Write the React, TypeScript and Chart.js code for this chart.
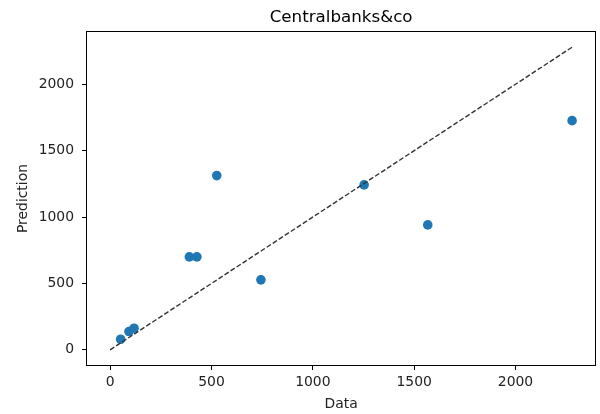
import React, { useEffect, useRef } from "react";
import { Chart, registerables } from "chart.js";

Chart.register(...registerables);

const dataX = [52, 93, 118, 391, 428, 526, 744, 1253, 1567, 2279];
const predY = [80, 138, 163, 700, 700, 1312, 527, 1242, 941, 1726];
const identityLine = [0, 2279];
const xTicks = [0, 500, 1000, 1500, 2000];
const yTicks = [0, 500, 1000, 1500, 2000];
const axisMin = -114;
const axisMax = 2393;

const FONT = "'DejaVu Sans', sans-serif";

const framePlugin = {
  id: "frame",
  afterDatasetsDraw(chart: any) {
    const { ctx, chartArea } = chart;
    ctx.save();
    ctx.strokeStyle = "#000";
    ctx.lineWidth = 1;
    const l = Math.round(chartArea.left) - 0.5;
    const t = Math.round(chartArea.top) - 0.5;
    const r = Math.round(chartArea.right) + 0.5;
    const b = Math.round(chartArea.bottom) + 0.5;
    ctx.strokeRect(l, t, r - l, b - t);
    ctx.restore();
  },
};

export default function App() {
  const ref = useRef<HTMLCanvasElement>(null);
  useEffect(() => {
    if (!ref.current) return;
    const chart = new Chart(ref.current, {
      type: "scatter",
      data: {
        datasets: [
          {
            label: "identity",
            data: identityLine.map((v) => ({ x: v, y: v })),
            showLine: true,
            borderColor: "#333",
            borderWidth: 1.4,
            borderDash: [5, 2.2],
            pointRadius: 0,
            fill: false,
          },
          {
            label: "points",
            data: dataX.map((x, i) => ({ x, y: predY[i] })),
            backgroundColor: "#1f77b4",
            borderColor: "#1f77b4",
            borderWidth: 0,
            pointRadius: 4.8,
          },
        ],
      },
      options: {
        animation: false,
        responsive: false,
        devicePixelRatio: 1,
        layout: { padding: { left: 0, right: 2, top: 0, bottom: 0 } },
        plugins: {
          legend: { display: false },
          tooltip: { enabled: false },
          title: {
            display: true,
            text: "Centralbanks&co",
            fullSize: false,
            color: "#000",
            font: { family: FONT, size: 16.7, weight: "normal" },
            padding: { top: 8, bottom: 4 },
          },
        },
        scales: {
          x: {
            type: "linear",
            min: axisMin,
            max: axisMax,
            afterBuildTicks: (s: any) => {
              s.ticks = xTicks.map((v) => ({ value: v }));
            },
            afterFit: (s: any) => {
              s.height = 49;
            },
            border: { display: false },
            grid: { drawOnChartArea: false, drawTicks: true, tickLength: 5, color: "#000" },
            ticks: {
              color: "#222",
              font: { family: FONT, size: 13.9 },
              padding: 4,
              maxRotation: 0,
              callback: (v: any) => String(v),
            },
            title: {
              display: true,
              text: "Data",
              color: "#222",
              font: { family: FONT, size: 13.9 },
              padding: { top: 0, bottom: 1 },
            },
          },
          y: {
            type: "linear",
            min: axisMin,
            max: axisMax,
            afterBuildTicks: (s: any) => {
              s.ticks = yTicks.map((v) => ({ value: v }));
            },
            afterFit: (s: any) => {
              s.width = 87;
            },
            border: { display: false },
            grid: { drawOnChartArea: false, drawTicks: true, tickLength: 5, color: "#000" },
            ticks: {
              color: "#222",
              font: { family: FONT, size: 13.9 },
              padding: 8,
              callback: (v: any) => String(v),
            },
            title: {
              display: true,
              text: "Prediction",
              color: "#222",
              font: { family: FONT, size: 13.9 },
              padding: { top: 15, bottom: 0 },
            },
          },
        },
      },
      plugins: [framePlugin],
    } as any);
    return () => chart.destroy();
  }, []);
  return (
    <div style={{ position: "absolute", left: 0, top: 0, width: 600, height: 414, background: "#fff" }}>
      <canvas ref={ref} width={600} height={414} />
    </div>
  );
}
